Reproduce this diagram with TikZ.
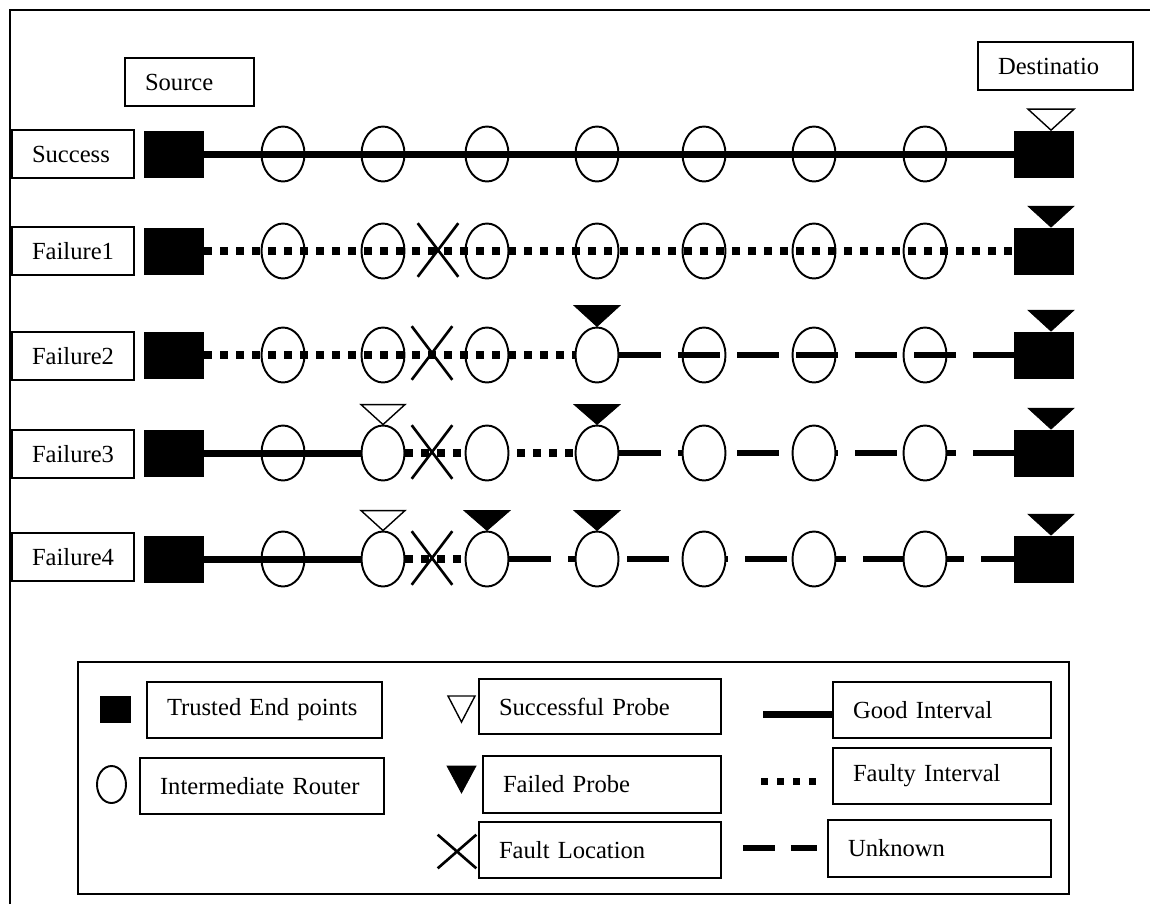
\documentclass[tikz,border=0pt]{standalone}
\usepackage{fontspec}
\setmainfont{Liberation Serif}
\usetikzlibrary{shapes.geometric,shapes.misc,backgrounds}

% probe marker: style, tip point, half width, height
\newcommand{\probe}[4]{\draw[#1] (#2) -- ++(-#3,-#4) -- ++({2*#3},0) -- cycle;}

\begin{document}
\begin{tikzpicture}[x=0.02cm, y=-0.02cm, font=\fontsize{14}{16}\selectfont]

\tikzstyle{lbl}=[draw, line width=0.8pt, inner xsep=0.4cm, inner ysep=0pt, minimum height=0.96cm, align=left]
\tikzstyle{endpt}=[fill=black, inner sep=0pt, minimum width=1.2cm, minimum height=0.94cm]
\tikzstyle{router}=[draw, ellipse, line width=1.1pt, inner sep=0pt, minimum width=0.86cm, minimum height=1.1cm]
\tikzstyle{routerw}=[router, fill=white]
\tikzstyle{fault}=[draw, cross out, line width=1.5pt, inner sep=0pt, minimum width=0.76cm, minimum height=1.02cm]
\tikzstyle{good}=[line width=0.14cm]
\tikzstyle{faulty}=[line width=0.16cm, dash pattern=on 0.16cm off 0.16cm]
\tikzstyle{unknown}=[line width=0.12cm, dash pattern=on 0.84cm off 0.34cm]
\tikzstyle{okp}=[line width=0.8pt]
\tikzstyle{badp}=[fill=black]

\useasboundingbox (0,0) rectangle (1150,904);
\draw[line width=1.2pt] (10,904) -- (10,10) -- (1150,10);

% --- end points and routers ---
\foreach \r/\y/\sty in {1/154/router, 2/251/router, 3/355/router, 4/453/routerw, 5/559/routerw} {
  \node[endpt] (s\r) at (174,\y) {};
  \node[endpt] (d\r) at (1044,\y) {};
  \node[router] (r\r-1) at (283,\y) {};
  \foreach \x [count=\i from 2] in {383,487,597,704,814,925}
    \node[\sty] (r\r-\i) at (\x,\y) {};
}

% --- labels ---
\node[lbl, text width=1.78cm] (lsrc) at (189.5,82) {Source};
\node[lbl, text width=2.3cm] (ldst) at (1055.5,66) {Destinatio};
\node[lbl, text width=1.64cm] (lsucc) at (73,154) {Success};
\node[lbl, text width=1.64cm] (lfail1) at (73,251) {Failure1};
\node[lbl, text width=1.64cm] (lfail2) at (73,356) {Failure2};
\node[lbl, text width=1.64cm] (lfail3) at (73,454) {Failure3};
\node[lbl, text width=1.64cm] (lfail4) at (73,557) {Failure4};

% --- fault locations ---
\node[fault] (x2) at (438,250) {};
\node[fault] (x3) at (432,353) {};
\node[fault] (x4) at (432,452) {};
\node[fault] (x5) at (432,558) {};

% --- intervals ---
\begin{pgfonlayer}{background}
\draw[good] (s1.east) -- (d1.west);
\draw[faulty] (s2.east) -- (d2.west);
\draw[faulty] (s3.east) -- (r3-4.west);
\draw[unknown] (r3-4.east) -- (d3.west);
\draw[good] (s4.east) -- (r4-2.west);
\draw[faulty] (r4-2.east) -- (r4-4.west);
\draw[unknown] (r4-4.east) -- (d4.west);
\draw[good] (s5.east) -- (r5-2.west);
\draw[faulty] (r5-2.east) -- (r5-3.west);
\draw[unknown] (r5-3.east) -- (d5.west);
\end{pgfonlayer}

% --- probes ---
\probe{okp}{[xshift=0.14cm]d1.north}{23}{21}
\probe{badp}{[xshift=0.14cm]d2.north}{23}{21}
\probe{badp}{r3-4.north}{23}{21}
\probe{badp}{[xshift=0.14cm]d3.north}{23}{21}
\probe{okp}{r4-2.north}{22}{20}
\probe{badp}{r4-4.north}{23}{20}
\probe{badp}{[xshift=0.14cm]d4.north}{23}{21}
\probe{okp}{r5-2.north}{22}{20}
\probe{badp}{r5-3.north}{23}{20}
\probe{badp}{r5-4.north}{23}{20}
\probe{badp}{[xshift=0.14cm]d5.north}{23}{21}

% --- legend ---
\node[draw, line width=0.8pt, minimum width=19.82cm, minimum height=4.64cm] (legend) at (573.5,778) {};
\node[endpt, minimum width=0.62cm, minimum height=0.54cm] (kend) at (115.5,709.5) {};
\node[router, minimum width=0.58cm, minimum height=0.74cm] (krouter) at (111.5,784.5) {};
\coordinate (kok) at (461.5,722);
\probe{okp}{kok}{13.5}{26}
\coordinate (kbad) at (461.5,793);
\probe{badp}{kbad}{14.5}{27}
\node[fault, minimum width=0.72cm, minimum height=0.62cm] (kfault) at (457,851.5) {};

\node[lbl, minimum height=1.12cm, text width=3.9cm] (kendl) at (264.5,710) {Trusted End points};
\node[lbl, minimum height=1.12cm, text width=4.08cm] (krouterl) at (262,786) {Intermediate Router};
\node[lbl, minimum height=1.1cm, text width=4.04cm] (kokl) at (600,706.5) {Successful Probe};
\node[lbl, minimum height=1.14cm, text width=3.96cm] (kbadl) at (602,784.5) {Failed Probe};
\node[lbl, minimum height=1.12cm, text width=4.04cm] (kfaultl) at (600,850) {Fault Location};
\node[lbl, minimum height=1.12cm, text width=3.56cm] (kgood) at (942,710) {Good Interval};
\node[lbl, minimum height=1.12cm, text width=3.56cm] (kfaulty) at (942,776) {Faulty Interval};
\node[lbl, minimum height=1.14cm, text width=3.66cm] (kunknown) at (939.5,848.5) {Unknown};

\coordinate (kg) at (763,714);
\draw[good] (kg) -- (kg -| kgood.west);
\coordinate (kf1) at (761,781);
\coordinate (kf2) at (822,781);
\draw[faulty, line width=0.14cm, dash pattern=on 0.14cm off 0.18cm] (kf1) -- (kf2);
\coordinate (ku1) at (743,848);
\coordinate (ku2) at (817,848);
\draw[unknown, dash pattern=on 0.64cm off 0.32cm] (ku1) -- (ku2);

\end{tikzpicture}
\end{document}
